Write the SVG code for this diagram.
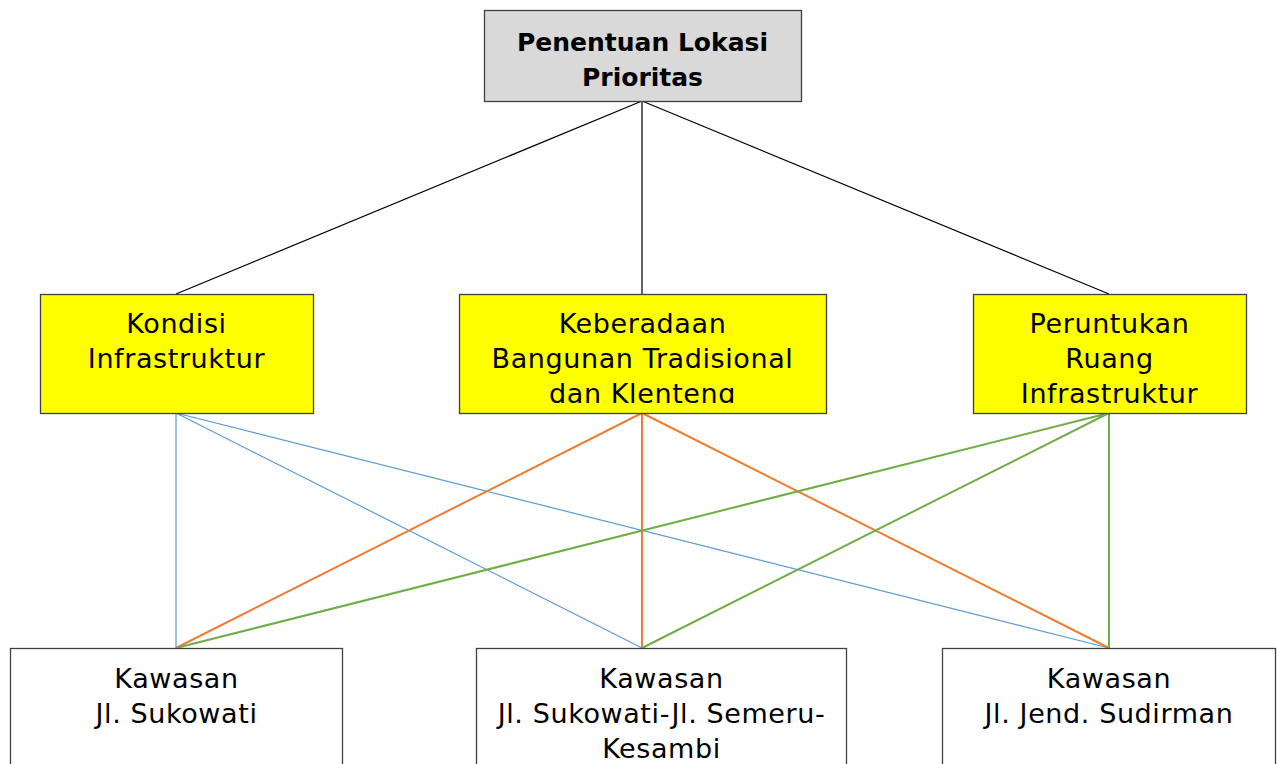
<svg xmlns="http://www.w3.org/2000/svg" width="1277" height="764" viewBox="0 0 1277 764">
<style>
.box{stroke:#404040;stroke-width:1.3}
.t{font-family:"DejaVu Sans","Liberation Sans",sans-serif;font-size:27px;letter-spacing:0.6px;fill:#000;text-anchor:middle}
.b{font-weight:bold;font-size:25px;letter-spacing:0}
.k{fill:none;stroke:#000;stroke-width:1.2}
.bl{fill:none;stroke:#5b9bd5;stroke-width:1.2}
.or{fill:none;stroke:#ed7d31;stroke-width:2}
.gr{fill:none;stroke:#70ad47;stroke-width:2}
</style>
<defs>
<clipPath id="c2"><rect x="459" y="294" width="367" height="109"/></clipPath>
<clipPath id="c3"><rect x="973" y="294" width="273" height="109"/></clipPath>
<clipPath id="c5"><rect x="476" y="648" width="370" height="110"/></clipPath>
</defs>
<rect width="1277" height="764" fill="#fff"/>
<g id="connectors">
<path class="k" d="M642 101L176 294M642 101L642 294M642 101L1109 294"/>
<path class="bl" d="M176 413L176 648M176 413L642 648M176 413L1109 648"/>
<path class="or" d="M642 413L176 648M642 413L642 648M642 413L1109 648"/>
<path class="gr" d="M1109 413L176 648M1109 413L642 648M1109 413L1109 648"/>
</g>
<g id="n0">
<rect class="box" x="484.5" y="10.5" width="317" height="91" fill="#d9d9d9"/>
<text class="t b" x="642.5" y="51">Penentuan Lokasi</text>
<text class="t b" x="642.5" y="86">Prioritas</text>
</g>
<g id="n1">
<rect class="box" x="40.5" y="294.5" width="273" height="119" fill="#ffff00"/>
<text class="t" x="176.5" y="333">Kondisi</text>
<text class="t" x="176.5" y="368">Infrastruktur</text>
</g>
<g id="n2">
<rect class="box" x="459.5" y="294.5" width="367" height="119" fill="#ffff00"/>
<g clip-path="url(#c2)">
<text class="t" x="642.5" y="333">Keberadaan</text>
<text class="t" x="642.5" y="368">Bangunan Tradisional</text>
<text class="t" x="642.5" y="403">dan Klenteng</text>
</g>
</g>
<g id="n3">
<rect class="box" x="973.5" y="294.5" width="273" height="119" fill="#ffff00"/>
<g clip-path="url(#c3)">
<text class="t" x="1109.5" y="333">Peruntukan</text>
<text class="t" x="1109.5" y="368">Ruang</text>
<text class="t" x="1109.5" y="403">Infrastruktur</text>
</g>
</g>
<g id="n4">
<rect class="box" x="10.5" y="648.5" width="332" height="130" fill="#fff"/>
<text class="t" x="176.5" y="688">Kawasan</text>
<text class="t" x="176.5" y="723">Jl. Sukowati</text>
</g>
<g id="n5">
<rect class="box" x="476.5" y="648.5" width="370" height="130" fill="#fff"/>
<g clip-path="url(#c5)">
<text class="t" x="661.5" y="688">Kawasan</text>
<text class="t" x="661.5" y="723">Jl. Sukowati-Jl. Semeru-</text>
<text class="t" x="661.5" y="758">Kesambi</text>
</g>
</g>
<g id="n6">
<rect class="box" x="942.5" y="648.5" width="333" height="130" fill="#fff"/>
<text class="t" x="1109" y="688">Kawasan</text>
<text class="t" x="1109" y="723">Jl. Jend. Sudirman</text>
</g>
</svg>
